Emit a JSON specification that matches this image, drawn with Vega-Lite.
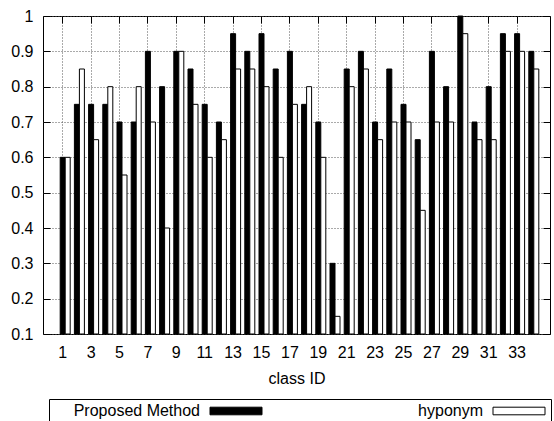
{
  "$schema": "https://vega.github.io/schema/vega-lite/v6.json",
  "width": 507,
  "height": 318,
  "autosize": {"type": "none"},
  "padding": {"left": 43, "top": 16, "right": 4, "bottom": 87},
  "config": {
    "font": "Liberation Sans",
    "view": {"stroke": "black", "strokeWidth": 1},
    "axis": {
      "labelFont": "Liberation Sans",
      "labelFontSize": 16,
      "labelColor": "black",
      "titleFont": "Liberation Sans",
      "titleFontSize": 16,
      "titleFontWeight": "normal",
      "titleColor": "black",
      "domain": false,
      "tickColor": "black",
      "gridColor": "#555555",
      "gridDash": [1, 2],
      "gridWidth": 1,
      "gridOpacity": 1
    }
  },
  "data": {
    "values": [
      {"class": 1, "method": "Proposed Method", "value": 0.6}, {"class": 1, "method": "hyponym", "value": 0.6},
      {"class": 2, "method": "Proposed Method", "value": 0.75}, {"class": 2, "method": "hyponym", "value": 0.85},
      {"class": 3, "method": "Proposed Method", "value": 0.75}, {"class": 3, "method": "hyponym", "value": 0.65},
      {"class": 4, "method": "Proposed Method", "value": 0.75}, {"class": 4, "method": "hyponym", "value": 0.8},
      {"class": 5, "method": "Proposed Method", "value": 0.7}, {"class": 5, "method": "hyponym", "value": 0.55},
      {"class": 6, "method": "Proposed Method", "value": 0.7}, {"class": 6, "method": "hyponym", "value": 0.8},
      {"class": 7, "method": "Proposed Method", "value": 0.9}, {"class": 7, "method": "hyponym", "value": 0.7},
      {"class": 8, "method": "Proposed Method", "value": 0.8}, {"class": 8, "method": "hyponym", "value": 0.4},
      {"class": 9, "method": "Proposed Method", "value": 0.9}, {"class": 9, "method": "hyponym", "value": 0.9},
      {"class": 10, "method": "Proposed Method", "value": 0.85}, {"class": 10, "method": "hyponym", "value": 0.75},
      {"class": 11, "method": "Proposed Method", "value": 0.75}, {"class": 11, "method": "hyponym", "value": 0.6},
      {"class": 12, "method": "Proposed Method", "value": 0.7}, {"class": 12, "method": "hyponym", "value": 0.65},
      {"class": 13, "method": "Proposed Method", "value": 0.95}, {"class": 13, "method": "hyponym", "value": 0.85},
      {"class": 14, "method": "Proposed Method", "value": 0.9}, {"class": 14, "method": "hyponym", "value": 0.85},
      {"class": 15, "method": "Proposed Method", "value": 0.95}, {"class": 15, "method": "hyponym", "value": 0.8},
      {"class": 16, "method": "Proposed Method", "value": 0.85}, {"class": 16, "method": "hyponym", "value": 0.6},
      {"class": 17, "method": "Proposed Method", "value": 0.9}, {"class": 17, "method": "hyponym", "value": 0.75},
      {"class": 18, "method": "Proposed Method", "value": 0.75}, {"class": 18, "method": "hyponym", "value": 0.8},
      {"class": 19, "method": "Proposed Method", "value": 0.7}, {"class": 19, "method": "hyponym", "value": 0.6},
      {"class": 20, "method": "Proposed Method", "value": 0.3}, {"class": 20, "method": "hyponym", "value": 0.15},
      {"class": 21, "method": "Proposed Method", "value": 0.85}, {"class": 21, "method": "hyponym", "value": 0.8},
      {"class": 22, "method": "Proposed Method", "value": 0.9}, {"class": 22, "method": "hyponym", "value": 0.85},
      {"class": 23, "method": "Proposed Method", "value": 0.7}, {"class": 23, "method": "hyponym", "value": 0.65},
      {"class": 24, "method": "Proposed Method", "value": 0.85}, {"class": 24, "method": "hyponym", "value": 0.7},
      {"class": 25, "method": "Proposed Method", "value": 0.75}, {"class": 25, "method": "hyponym", "value": 0.7},
      {"class": 26, "method": "Proposed Method", "value": 0.65}, {"class": 26, "method": "hyponym", "value": 0.45},
      {"class": 27, "method": "Proposed Method", "value": 0.9}, {"class": 27, "method": "hyponym", "value": 0.7},
      {"class": 28, "method": "Proposed Method", "value": 0.8}, {"class": 28, "method": "hyponym", "value": 0.7},
      {"class": 29, "method": "Proposed Method", "value": 1.0}, {"class": 29, "method": "hyponym", "value": 0.95},
      {"class": 30, "method": "Proposed Method", "value": 0.7}, {"class": 30, "method": "hyponym", "value": 0.65},
      {"class": 31, "method": "Proposed Method", "value": 0.8}, {"class": 31, "method": "hyponym", "value": 0.65},
      {"class": 32, "method": "Proposed Method", "value": 0.95}, {"class": 32, "method": "hyponym", "value": 0.9},
      {"class": 33, "method": "Proposed Method", "value": 0.95}, {"class": 33, "method": "hyponym", "value": 0.9},
      {"class": 34, "method": "Proposed Method", "value": 0.9}, {"class": 34, "method": "hyponym", "value": 0.85}
    ]
  },
  "resolve": {"axis": {"x": "independent", "y": "independent"}},
  "layer": [
    {
      "transform": [{"filter": "datum.method === 'Proposed Method'"}],
      "mark": {"type": "bar", "size": 5, "xOffset": 0.5, "stroke": "black", "strokeWidth": 1},
      "encoding": {
        "x": {
          "field": "class", "type": "quantitative",
          "scale": {"domain": [0, 35], "nice": false, "zero": false},
          "axis": {
            "orient": "bottom",
            "values": [1, 3, 5, 7, 9, 11, 13, 15, 17, 19, 21, 23, 25, 27, 29, 31, 33],
            "format": "d",
            "title": "class ID",
            "grid": true,
            "ticks": true,
            "tickSize": -7,
            "labelPadding": 17,
            "titlePadding": 10
          }
        },
        "y": {
          "field": "value", "type": "quantitative",
          "scale": {"domain": [0.1, 1], "nice": false, "zero": false},
          "axis": {
            "orient": "left",
            "values": [0.1, 0.2, 0.3, 0.4, 0.5, 0.6, 0.7, 0.8, 0.9, 1],
            "format": "~g",
            "title": null,
            "grid": true,
            "ticks": true,
            "tickSize": -7,
            "labelPadding": 17
          }
        },
        "y2": {"datum": 0.1},
        "color": {
          "field": "method", "type": "nominal",
          "scale": {"domain": ["Proposed Method", "hyponym"], "range": ["black", "white"]},
          "legend": {
            "title": null,
            "orient": "none",
            "legendX": 6,
            "legendY": 383,
            "direction": "horizontal",
            "columns": 2,
            "columnPadding": 72,
            "symbolType": "M-6.5,-0.95H6.5V0.95H-6.5Z",
            "symbolSize": 64,
            "symbolOffset": 175,
            "symbolStrokeColor": "black",
            "symbolStrokeWidth": 1,
            "labelFont": "Liberation Sans",
            "labelFontSize": 16,
            "labelColor": "black",
            "labelAlign": "right",
            "labelOffset": -44,
            "labelLimit": 0,
            "strokeColor": "black",
            "padding": 4
          }
        }
      }
    },
    {
      "transform": [{"filter": "datum.method === 'hyponym'"}],
      "mark": {"type": "bar", "size": 5, "xOffset": 5.5, "stroke": "black", "strokeWidth": 1},
      "encoding": {
        "x": {
          "field": "class", "type": "quantitative",
          "scale": {"domain": [0, 35], "nice": false, "zero": false},
          "axis": {
            "orient": "top",
            "values": [1, 3, 5, 7, 9, 11, 13, 15, 17, 19, 21, 23, 25, 27, 29, 31, 33],
            "labels": false,
            "title": null,
            "grid": false,
            "ticks": true,
            "tickSize": -7
          }
        },
        "y": {
          "field": "value", "type": "quantitative",
          "scale": {"domain": [0.1, 1], "nice": false, "zero": false},
          "axis": {
            "orient": "right",
            "values": [0.1, 0.2, 0.3, 0.4, 0.5, 0.6, 0.7, 0.8, 0.9, 1],
            "labels": false,
            "title": null,
            "grid": false,
            "ticks": true,
            "tickSize": -7
          }
        },
        "y2": {"datum": 0.1},
        "color": {
          "field": "method", "type": "nominal",
          "scale": {"domain": ["Proposed Method", "hyponym"], "range": ["black", "white"]}
        }
      }
    }
  ]
}
